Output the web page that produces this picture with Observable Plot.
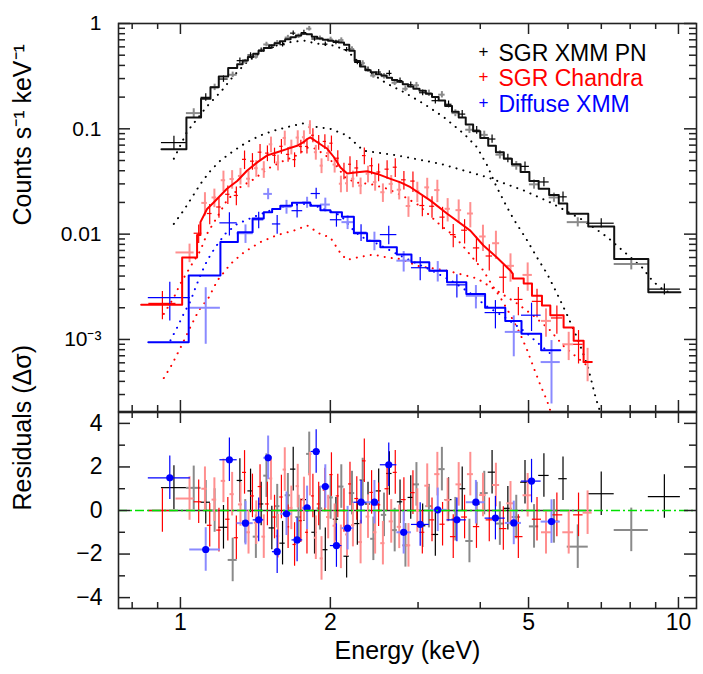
<!DOCTYPE html>
<html><head><meta charset="utf-8">
<script src="https://cdn.jsdelivr.net/npm/d3@7"></script>
<script src="https://cdn.jsdelivr.net/npm/@observablehq/plot@0.6"></script>
<style>
body{margin:0;background:#fff;}
#chart{width:703px;height:674px;background:#fff;}
#chart svg{display:block;}
</style></head><body><div id="chart"></div>
<script>
// ---------------- DATA ----------------
// axis ticks
const xMajor = [1, 2, 5, 10];
const xMinor = [0.8, 0.9, 3, 4, 6, 7, 8, 9];
const xLabels = ["1", "2", "5", "10"];
const yTopMajor = [1, 0.1, 0.01, 0.001];
const yTopLabels = ["1", "0.1", "0.01", "10⁻³"];
const yTopMinor = [3e-4,4e-4,5e-4,6e-4,7e-4,8e-4,9e-4,0.002,0.003,0.004,0.005,0.006,0.007,0.008,0.009,0.02,0.03,0.04,0.05,0.06,0.07,0.08,0.09,0.2,0.3,0.4,0.5,0.6,0.7,0.8,0.9];
const yResMajor = [-4, -2, 0, 2, 4];
const yResLabels = ["−4", "−2", "0", "2", "4"];
const yResMinor = [-3, -1, 1, 3];
const seriesNames = ["SGR XMM PN", "SGR Chandra", "Diffuse XMM"];

// SGR XMM PN (black): bin edges, model, data, relative error, residual
const blackEdges = [0.916,1.028,1.10,1.149,1.194,1.247,1.30,1.333,1.366,1.40,1.435,1.47,1.507,1.545,1.584,1.623,1.664,1.705,1.748,1.792,1.836,1.882,1.93,1.978,2.027,2.078,2.13,2.183,2.238,2.294,2.351,2.41,2.47,2.532,2.595,2.66,2.726,2.795,2.865,2.936,3.02,3.11,3.20,3.30,3.40,3.51,3.62,3.74,3.87,4.00,4.15,4.30,4.46,4.63,4.82,5.02,5.24,5.50,5.75,5.98,6.59,7.43,8.70,10.09];
const blackModel = [0.064,0.128,0.193,0.248,0.314,0.377,0.41,0.445,0.48,0.515,0.55,0.585,0.62,0.65,0.68,0.71,0.74,0.77,0.80,0.79,0.75,0.72,0.70,0.685,0.675,0.66,0.63,0.55,0.44,0.39,0.36,0.345,0.33,0.32,0.305,0.29,0.28,0.265,0.252,0.24,0.23,0.215,0.20,0.186,0.165,0.145,0.128,0.11,0.095,0.082,0.069,0.060,0.052,0.046,0.039,0.032,0.027,0.0235,0.0195,0.0156,0.0118,0.0058,0.0028];
const blackData = [0.074,0.141,0.199,0.248,0.297,0.326,0.444,0.434,0.502,0.484,0.558,0.632,0.595,0.657,0.629,0.735,0.81,0.758,0.82,0.893,0.713,0.724,0.637,0.706,0.662,0.696,0.564,0.572,0.427,0.42,0.366,0.32,0.346,0.316,0.336,0.274,0.287,0.24,0.262,0.259,0.22,0.218,0.185,0.211,0.171,0.141,0.138,0.098,0.097,0.0876,0.080,0.0568,0.0525,0.0447,0.044,0.0297,0.0313,0.0223,0.0226,0.0130,0.0127,0.0052,0.0030];
const blackErr = [0.15,0.10,0.08,0.07,0.07,0.06,0.06,0.05,0.05,0.05,0.05,0.05,0.05,0.05,0.05,0.05,0.05,0.05,0.05,0.05,0.05,0.05,0.05,0.05,0.05,0.05,0.05,0.05,0.05,0.055,0.055,0.055,0.055,0.06,0.06,0.06,0.06,0.06,0.065,0.065,0.065,0.07,0.07,0.07,0.075,0.075,0.08,0.08,0.085,0.085,0.09,0.09,0.095,0.095,0.1,0.1,0.1,0.1,0.11,0.1,0.1,0.12,0.12];
const blackRes = [1.05,1.04,0.38,0,-0.77,-2.27,1.38,-0.5,0.9,-1.2,0.3,1.6,-0.8,0.2,-1.5,0.7,1.9,-0.3,0.5,2.6,-1.0,0.1,-1.8,0.6,-0.4,1.1,-2.1,0.8,-0.6,1.4,0.3,-1.3,0.9,-0.2,1.7,-0.9,0.4,-1.6,0.6,1.2,-0.7,0.2,-1.1,1.9,0.5,-0.4,1.0,-1.4,0.3,0.8,1.76,-0.6,0.1,-0.3,1.3,-0.73,1.61,-0.5,1.46,-1.66,0.77,-0.89,0.64];

// SGR Chandra (red)
const redE = [0.92,1.043,1.088,1.12,1.145,1.17,1.195,1.22,1.245,1.27,1.295,1.32,1.345,1.37,1.395,1.42,1.445,1.47,1.495,1.52,1.545,1.57,1.595,1.62,1.645,1.67,1.695,1.72,1.745,1.77,1.795,1.82,1.845,1.87,1.895,1.92,1.95,1.98,2.01,2.04,2.07,2.10,2.13,2.16,2.19,2.22,2.26,2.30,2.34,2.38,2.42,2.46,2.50,2.55,2.60,2.65,2.70,2.75,2.81,2.87,2.93,2.99,3.06,3.13,3.20,3.28,3.36,3.44,3.53,3.62,3.72,3.82,3.93,4.05,4.17,4.30,4.45,4.60,4.77,4.98,5.2,5.42,5.7,6.02,6.3,6.57];
const redV = [0.0022,0.0067,0.0102,0.0198,0.0157,0.0223,0.0181,0.0325,0.0239,0.0334,0.0233,0.0357,0.0513,0.0336,0.0493,0.0423,0.060,0.0413,0.0588,0.0713,0.056,0.048,0.0682,0.0819,0.0572,0.0673,0.051,0.0826,0.0679,0.0832,0.068,0.1038,0.0869,0.060,0.0746,0.0447,0.0759,0.0589,0.073,0.0458,0.0526,0.0301,0.040,0.0304,0.0461,0.0336,0.0425,0.0289,0.0557,0.0374,0.0446,0.0312,0.0389,0.025,0.0414,0.030,0.0432,0.0264,0.0328,0.0185,0.0319,0.0255,0.0187,0.0278,0.0184,0.0262,0.0145,0.0174,0.0099,0.0169,0.0109,0.0157,0.0074,0.0095,0.0062,0.0082,0.0039,0.0050,0.0024,0.0041,0.0023,0.0015,0.0016,0.0009,0.0009,0.00061];
const redErr = [0.30,0.20,0.20,0.25,0.22,0.2,0.22,0.22,0.2,0.2,0.2,0.18,0.2,0.18,0.18,0.18,0.18,0.18,0.17,0.17,0.17,0.17,0.16,0.16,0.16,0.16,0.16,0.16,0.15,0.15,0.15,0.15,0.15,0.16,0.16,0.16,0.16,0.17,0.17,0.17,0.18,0.18,0.18,0.18,0.18,0.18,0.18,0.18,0.18,0.18,0.18,0.18,0.19,0.2,0.2,0.2,0.2,0.2,0.2,0.22,0.22,0.22,0.22,0.22,0.23,0.24,0.24,0.25,0.25,0.25,0.26,0.27,0.27,0.28,0.28,0.3,0.3,0.3,0.3,0.3,0.3,0.3,0.3,0.3,0.35,0.35];
const redRes = [0,0.55,0.4,1.0,-0.68,0.5,-0.9,1.36,-0.4,0.75,-1.25,0.28,1.75,-1.0,0.67,-0.56,1.1,-1.2,0.3,1.47,-0.3,-1.18,0.62,1.88,-0.75,0.12,-1.56,1.12,-0.47,0.53,-1.0,1.67,0.67,-1.25,0.3,-2.2,0.94,-0.3,1.65,-0.7,0.67,-1.67,0,-1.1,1.22,-0.67,0.55,-1.45,2.28,-0.28,0.83,-1.0,0.26,-1.5,1.0,-0.5,1.75,-0.75,0.5,-1.6,0.82,0,-1.0,1.14,-0.43,1.67,-0.63,0.48,-1.2,1.2,-0.3,1.67,-0.74,0.71,-0.43,1.17,-0.83,0.33,-1.2,0.7,-0.4,-1.0,-0.2,-1.0,-0.2,-0.1];
// red model: binned low end, smooth middle, binned high end
const redModelLoEdges = [0.834,1.008,1.08,1.097];
const redModelLoV = [0.00214,0.006,0.0098];
const redModelMidE = [1.097,1.131,1.166,1.203,1.24,1.30,1.36,1.426,1.494,1.564,1.64,1.715,1.77,1.796,1.823,1.85,1.88,1.93,1.97,2.032,2.096,2.162,2.264,2.372,2.485,2.641,2.766,2.897,3.178,3.434,3.82,4.06,4.32,4.60,4.65];
const redModelMidV = [0.013,0.0173,0.020,0.0233,0.027,0.032,0.040,0.048,0.056,0.060,0.0645,0.069,0.075,0.080,0.083,0.079,0.075,0.069,0.065,0.054,0.043,0.0377,0.0386,0.0395,0.0373,0.0335,0.031,0.0279,0.0208,0.0156,0.0108,0.0078,0.006,0.0045,0.0042];
const redModelHiEdges = [4.65,4.89,5.08,5.32,5.53,5.88,6.16,6.45,6.70];
const redModelHiV = [0.0038,0.0034,0.0026,0.0021,0.0017,0.0013,0.00097,0.00061];

// Diffuse XMM (blue)
const blueE = [0.952,1.124,1.254,1.351,1.436,1.50,1.564,1.633,1.715,1.796,1.873,1.954,2.057,2.166,2.305,2.452,2.62,2.807,3.03,3.286,3.59,3.92,4.29,4.67,5.07,5.56];
const blueLo = [0.862,1.044,1.20,1.30,1.40,1.47,1.53,1.59,1.675,1.76,1.83,1.91,2.0,2.11,2.23,2.37,2.52,2.72,2.91,3.16,3.43,3.75,4.09,4.49,4.84,5.30];
const blueHi = [1.047,1.203,1.30,1.40,1.47,1.53,1.59,1.675,1.76,1.83,1.91,2.0,2.11,2.23,2.37,2.52,2.72,2.91,3.16,3.43,3.75,4.09,4.49,4.84,5.30,5.79];
const blueV = [0.0025,0.0020,0.0128,0.0102,0.0137,0.0241,0.0125,0.0182,0.0167,0.0200,0.0243,0.0191,0.0137,0.0130,0.0104,0.0087,0.0099,0.0056,0.0048,0.0045,0.0033,0.0026,0.0018,0.00118,0.0017,0.00061];
const blueErr = [0.4,0.55,0.25,0.2,0.18,0.12,0.2,0.15,0.15,0.12,0.12,0.15,0.15,0.15,0.18,0.2,0.2,0.22,0.25,0.22,0.25,0.25,0.3,0.42,0.3,0.6];
const blueRes = [1.50,-1.79,2.33,-0.58,-0.43,2.42,-1.89,-0.15,-1.35,0.12,2.71,1.10,-1.61,-0.81,0.38,0.38,2.10,-1.0,-0.64,0.03,-0.43,0.38,-0.35,-0.57,1.35,-0.51];
const blueModelEdges = [0.862,1.039,1.203,1.304,1.396,1.47,1.528,1.587,1.675,1.823,1.91,2.0,2.11,2.23,2.37,2.52,2.72,2.91,3.16,3.43,3.75,4.09,4.49,4.84,5.30,5.79];
const blueModelV = [0.00094,0.00405,0.0084,0.0104,0.0141,0.0161,0.0173,0.0186,0.0199,0.0186,0.0169,0.0161,0.0146,0.0102,0.0086,0.0075,0.0064,0.0054,0.0045,0.0035,0.0027,0.0020,0.0015,0.00113,0.00079];

// model components (dotted)
const blackHumpE = [0.97,1.03,1.08,1.13,1.21,1.28,1.36,1.47,1.56,1.66,1.77,1.86,2.03,2.16,2.26,2.37,2.6,2.81,3.08,3.38,3.71,3.94,4.13,4.3,4.5,4.67,4.97,5.2,5.45,5.71,5.98,6.26,6.56,6.82,7.0];
const blackHumpV = [0.052,0.093,0.124,0.163,0.23,0.32,0.43,0.554,0.618,0.665,0.689,0.65,0.618,0.554,0.445,0.358,0.268,0.223,0.173,0.129,0.0895,0.0668,0.045,0.029,0.019,0.0138,0.0087,0.006,0.0042,0.0027,0.0017,0.00104,0.00058,0.00028,0.00019];
const blackPlE = [0.97,1.015,1.055,1.097,1.149,1.203,1.28,1.36,1.447,1.54,1.64,1.77,1.88,2.0,2.16,2.33,2.72,3.33,4.13,4.89,5.53,6.45,7.19,7.59,8.02,8.46,8.87,9.2,9.7];
const blackPlV = [0.0125,0.0168,0.0224,0.030,0.040,0.050,0.062,0.0747,0.0865,0.096,0.104,0.113,0.104,0.10,0.0865,0.062,0.056,0.0465,0.0347,0.026,0.020,0.0135,0.0094,0.0075,0.006,0.0048,0.0036,0.0031,0.0027];
const redHumpE = [0.926,0.97,1.0,1.047,1.097,1.131,1.185,1.24,1.32,1.40,1.50,1.60,1.70,1.80,1.85,1.95,2.05,2.15,2.25,2.4,2.6,2.8,3.0,3.33,3.54,3.71,3.88,4.06,4.19,4.39,4.6,4.81,4.97,5.12,5.28,5.45,5.55];
const redHumpV = [0.00175,0.0025,0.0034,0.0049,0.0070,0.0101,0.0145,0.021,0.028,0.033,0.042,0.049,0.055,0.066,0.066,0.057,0.045,0.034,0.031,0.030,0.027,0.023,0.019,0.0121,0.0097,0.0075,0.0058,0.0045,0.0035,0.0025,0.0017,0.00113,0.00079,0.00054,0.00037,0.00026,0.0002];
const redFlatE = [0.926,0.962,1.008,1.047,1.088,1.14,1.185,1.26,1.34,1.447,1.564,1.69,1.796,1.91,2.0,2.1,2.16,2.3,2.44,2.6,2.77,2.99,3.43,3.94,4.32,4.74,5.1,5.5,5.9,6.2,6.6];
const redFlatV = [0.00043,0.00058,0.0009,0.00131,0.00188,0.0025,0.0036,0.0052,0.0067,0.0084,0.0098,0.0108,0.0121,0.010,0.0093,0.0065,0.0057,0.0061,0.0064,0.0060,0.0058,0.0050,0.0045,0.0038,0.0029,0.0022,0.0017,0.00125,0.00085,0.0007,0.00055];
const blueCompE = [0.955,0.985,1.015,1.047,1.072,1.10,1.131,1.175,1.231,1.30,1.40,1.50,1.60,1.70,1.80,1.90,2.0,2.1,2.2,2.3,2.5,2.7,2.9,3.2,3.5,3.8,4.1,4.5,4.9,5.3,5.6];
const blueCompV = [0.00098,0.0013,0.00175,0.0023,0.0031,0.0042,0.0056,0.0075,0.0101,0.0125,0.0145,0.0165,0.018,0.019,0.0195,0.018,0.0165,0.015,0.0115,0.0095,0.008,0.0066,0.0056,0.0045,0.0036,0.0028,0.0021,0.0016,0.0012,0.00087,0.0007];

// ---------------- BUILD ----------------
const W = 703, ML = 118, MR = 7;
const topH = 412, topMT = 23, topMB = 1;
const botH = 262, botMT = 0, botMB = 66;
const FW = W - ML - MR, FHT = topH - topMT - topMB, FHB = botH - botMT - botMB;
const xDomain = [0.751, 10.87];
const axisColor = "#222";
const FONT = "'Liberation Sans', Arial, Helvetica, sans-serif";

const pts = (E, V) => E.map((e, i) => ({x: e, y: V[i]}));
function stepPts(edges, vals) {
  const p = [];
  vals.forEach((v, i) => { p.push({x: edges[i], y: v}); p.push({x: edges[i + 1], y: v}); });
  return p;
}
function edgesFromCenters(E) {
  const n = E.length, ed = [];
  for (let i = 1; i < n; i++) ed.push(Math.sqrt(E[i - 1] * E[i]));
  ed.unshift(E[0] * E[0] / ed[0]);
  ed.push(E[n - 1] * E[n - 1] / ed[ed.length - 1]);
  return ed;
}
function rows(x, x1, x2, y, err, res) {
  return x.map((xx, i) => ({
    x: xx, x1: x1[i], x2: x2[i], y: y[i],
    y1: y[i] * (1 - err[i]), y2: y[i] * (1 + err[i]),
    r: res[i], r1: res[i] - 1, r2: res[i] + 1, alt: i % 2 === 1
  }));
}
const bLo = blackEdges.slice(0, -1), bHi = blackEdges.slice(1);
const bX = bLo.map((l, i) => Math.sqrt(l * bHi[i]));
const blackRows = rows(bX, bLo, bHi, blackData, blackErr, blackRes);
const rEd = edgesFromCenters(redE);
const redRows = rows(redE, rEd.slice(0, -1), rEd.slice(1), redV, redErr, redRes);
const blueRows = rows(blueE, blueLo, blueHi, blueV, blueErr, blueRes);

const redModelPts = [...stepPts(redModelLoEdges, redModelLoV), ...pts(redModelMidE, redModelMidV), ...stepPts(redModelHiEdges, redModelHiV)];

function crosses(data, color, width, top) {
  const o = {stroke: color, strokeWidth: width, clip: true};
  return [
    Plot.ruleY(data, {y: top ? "y" : "r", x1: "x1", x2: "x2", ...o}),
    Plot.ruleX(data, {x: "x", y1: top ? "y1" : "r1", y2: top ? "y2" : "r2", ...o})
  ];
}
function groupCrosses(data, main, light, top) {
  return [
    ...crosses(data.filter(d => d.alt), light, 2, top),
    ...crosses(data.filter(d => !d.alt), main, 1.2, top)
  ];
}
function frameTicks(xMaj, xMin, yMaj, yMin, FH) {
  const s = {stroke: axisColor, strokeWidth: 1.5};
  const MAJ = 11, MIN = 6;
  return [
    Plot.ruleX(xMaj, {...s, insetTop: FH - MAJ}),
    Plot.ruleX(xMaj, {...s, insetBottom: FH - MAJ}),
    Plot.ruleX(xMin, {...s, insetTop: FH - MIN}),
    Plot.ruleX(xMin, {...s, insetBottom: FH - MIN}),
    Plot.ruleY(yMaj, {...s, insetRight: FW - 12}),
    Plot.ruleY(yMaj, {...s, insetLeft: FW - 12}),
    Plot.ruleY(yMin, {...s, insetRight: FW - 7}),
    Plot.ruleY(yMin, {...s, insetLeft: FW - 7}),
    Plot.frame({stroke: axisColor, strokeWidth: 1.6})
  ];
}
const dotted = (p, color) => Plot.line(p, {x: "x", y: "y", stroke: color, strokeWidth: 2, strokeDasharray: "0.1,7", strokeLinecap: "round", clip: true});

const legendColors = ["#000", "#ff0000", "#0000ff"];
const legendMarks = seriesNames.flatMap((name, i) => [
  Plot.text([name], {text: d => d, frameAnchor: "top-left", dx: 380, dy: 21 + 25.5 * i, textAnchor: "start", fill: legendColors[i], fontSize: 23}),
  Plot.text(["+"], {text: d => d, frameAnchor: "top-left", dx: 360, dy: 21 + 25.5 * i, fill: legendColors[i], fontSize: 17})
]);

const topPlot = Plot.plot({
  width: W, height: topH, marginTop: topMT, marginBottom: topMB, marginLeft: ML, marginRight: MR,
  x: {type: "log", domain: xDomain, axis: null},
  y: {type: "log", domain: [2.07e-4, 1], axis: null},
  style: {fontFamily: FONT, background: "#fff", color: "#000", overflow: "visible"},
  marks: [
    dotted(pts(blackHumpE, blackHumpV), "#000"),
    dotted(pts(blackPlE, blackPlV), "#000"),
    dotted(pts(redHumpE, redHumpV), "#ff0000"),
    dotted(pts(redFlatE, redFlatV), "#ff0000"),
    dotted(pts(blueCompE, blueCompV), "#0000ff"),
    ...groupCrosses(blackRows, "#000", "#8a8a8a", true),
    ...groupCrosses(redRows, "#ff0000", "#ff8f8f", true),
    ...groupCrosses(blueRows, "#0000ff", "#8a8aff", true),
    Plot.line(stepPts(blackEdges, blackModel), {x: "x", y: "y", stroke: "#111", strokeWidth: 2}),
    Plot.line(redModelPts, {x: "x", y: "y", stroke: "#ff0000", strokeWidth: 2}),
    Plot.line(stepPts(blueModelEdges, blueModelV), {x: "x", y: "y", stroke: "#0000ff", strokeWidth: 2}),
    ...frameTicks(xMajor, xMinor, yTopMajor, yTopMinor, FHT),
    Plot.text(yTopMajor, {y: d => d, text: (d, i) => yTopLabels[i], frameAnchor: "left", textAnchor: "end", dx: -17, fontSize: 21}),
    Plot.text(["Counts s⁻¹ keV⁻¹"], {text: d => d, frameAnchor: "left", dx: -96, dy: 8, rotate: -90, fontSize: 25}),
    ...legendMarks
  ]
});

const botPlot = Plot.plot({
  width: W, height: botH, marginTop: botMT, marginBottom: botMB, marginLeft: ML, marginRight: MR,
  x: {type: "log", domain: xDomain, axis: null},
  y: {domain: [-4.5, 4.5], axis: null},
  style: {fontFamily: FONT, background: "#fff", color: "#000", overflow: "visible"},
  marks: [
    Plot.ruleY([0], {x1: rEd[0], x2: rEd[rEd.length - 1], stroke: "#333", strokeWidth: 1.5}),
    ...groupCrosses(blackRows, "#000", "#8a8a8a", false),
    ...groupCrosses(redRows, "#ff0000", "#ff8f8f", false),
    ...groupCrosses(blueRows, "#0000ff", "#8a8aff", false),
    Plot.dot(blueRows, {x: "x", y: "r", r: 3.6, fill: "#0000ff", stroke: "none"}),
    Plot.ruleY([0], {stroke: "#00e000", strokeWidth: 1.6, strokeDasharray: "9,3,2,3"}),
    ...frameTicks(xMajor, xMinor, yResMajor, yResMinor, FHB),
    Plot.text(yResMajor, {y: d => d, text: (d, i) => yResLabels[i], frameAnchor: "left", textAnchor: "end", dx: -16, fontSize: 23}),
    Plot.text(xMajor, {x: d => d, text: (d, i) => xLabels[i], frameAnchor: "bottom", dy: 21, fontSize: 23}),
    Plot.text(["Energy (keV)"], {text: d => d, frameAnchor: "bottom", dy: 50, fontSize: 25}),
    Plot.text(["Residuals (Δσ)"], {text: d => d, frameAnchor: "left", dx: -96, rotate: -90, fontSize: 25})
  ]
});

const chart = document.getElementById("chart");
chart.append(topPlot, botPlot);
</script></body></html>
